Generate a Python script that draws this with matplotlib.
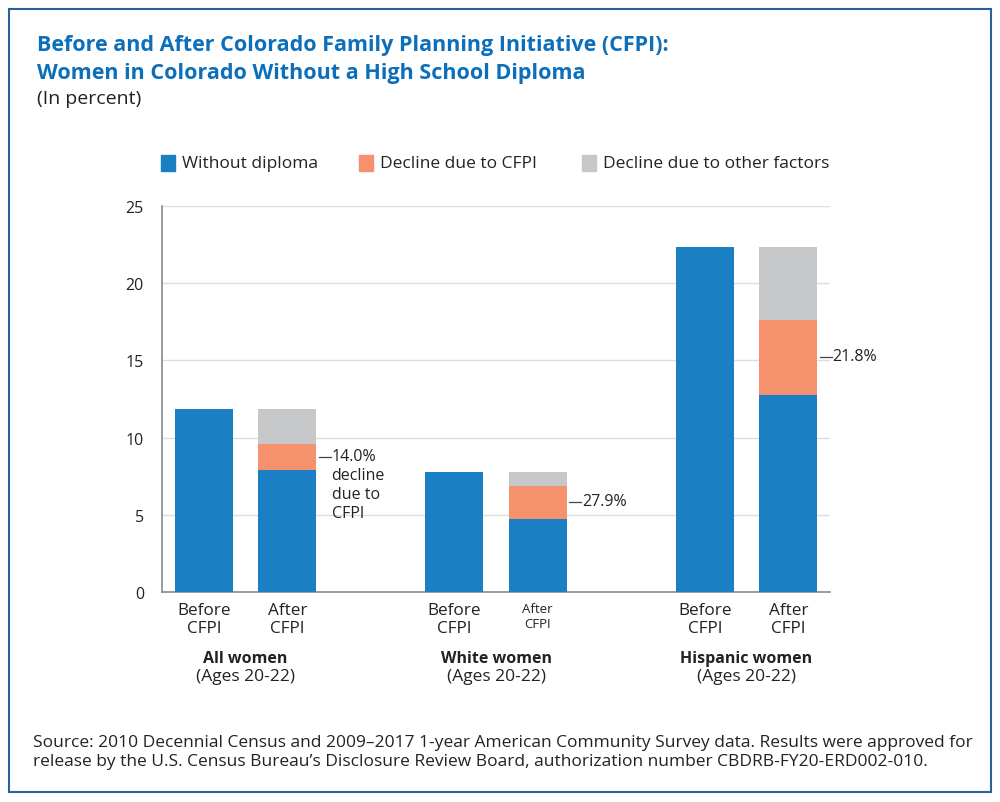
import numpy as np
import matplotlib
matplotlib.use("Agg")
import matplotlib.pyplot as plt
from matplotlib.patches import Rectangle

plt.rcParams['font.family'] = ['Open Sans', 'DejaVu Sans']

groups = ["All women", "White women", "Hispanic women"]
group_sub = "(Ages 20-22)"
before_vals = [11.85, 7.75, 22.33]
after_without = [7.90, 4.73, 12.78]
after_cfpi = [1.69, 2.16, 4.86]
after_other = [2.26, 0.86, 4.69]
cfpi_pct = ["14.0%", "27.9%", "21.8%"]
yticks = [0, 5, 10, 15, 20, 25]

c_blue = "#1b7fc4"
c_orange = "#f5916d"
c_gray = "#c6c7c9"
c_title = "#0b6fbb"
c_text = "#222222"

fig = plt.figure(figsize=(10, 8.03), dpi=100)
ax = fig.add_axes([0.162, 0.2615, 0.668, 0.4807])

x_before = np.array([0, 3, 6], dtype=float)
x_after = x_before + 1
w = 0.7

ax.bar(x_before, before_vals, w, color=c_blue, zorder=3)
ax.bar(x_after, after_without, w, color=c_blue, zorder=3)
ax.bar(x_after, after_cfpi, w, bottom=after_without, color=c_orange, zorder=3)
bot2 = np.array(after_without) + np.array(after_cfpi)
ax.bar(x_after, after_other, w, bottom=bot2, color=c_gray, zorder=3)

ax.set_xlim(-0.5, 7.5)
ax.set_ylim(0, 25)
ax.set_yticks(yticks)
ax.yaxis.grid(True, color="#dddddd", lw=1, zorder=0)
ax.tick_params(axis="y", length=0, pad=13, labelsize=11.5, labelcolor=c_text)
ax.tick_params(axis="x", length=0)
ax.set_xticks([])
for s in ["top", "right"]:
    ax.spines[s].set_visible(False)
for s in ["left", "bottom"]:
    ax.spines[s].set_color("#8a8a8a")
    ax.spines[s].set_linewidth(1.2)

# percent annotations next to the orange segments
for i in range(3):
    mid = after_without[i] + after_cfpi[i] / 2
    xr = x_after[i] + w / 2
    ax.plot([xr + 0.03, xr + 0.17], [mid, mid], color="#444444", lw=0.9,
            clip_on=False, zorder=4)
    label = cfpi_pct[i]
    if i == 0:
        label = label + "\ndecline\ndue to\nCFPI"
    ax.text(xr + 0.18, mid + 0.6, label, ha="left", va="top", fontsize=11.5,
            color=c_text, linespacing=1.25, clip_on=False)

# category labels under the bars
for i in range(3):
    ax.text(x_before[i], -0.65, "Before\nCFPI", ha="center", va="top",
            fontsize=12.3, color=c_text, linespacing=1.2)
    fs = 9.5 if i == 1 else 12.3
    ax.text(x_after[i], -0.65, "After\nCFPI", ha="center", va="top",
            fontsize=fs, color=c_text, linespacing=1.2)
    gx = (x_before[i] + x_after[i]) / 2
    ax.text(gx, -3.75, groups[i], ha="center", va="top", fontsize=11.5,
            fontweight="bold", color=c_text)
    ax.text(gx, -4.95, group_sub, ha="center", va="top", fontsize=12.5,
            color=c_text)

# legend drawn by hand
leg = [("Without diploma", c_blue, 0.161), ("Decline due to CFPI", c_orange, 0.359),
       ("Decline due to other factors", c_gray, 0.582)]
for name, col, lx in leg:
    fig.patches.append(Rectangle((lx, 1 - 172 / 803), 0.014, 16 / 803,
                                 transform=fig.transFigure, color=col))
    fig.text(lx + 0.021, 1 - 164 / 803, name, ha="left", va="center",
             fontsize=12.5, color=c_text)

title_lines = ["Before and After Colorado Family Planning Initiative (CFPI):",
               "Women in Colorado Without a High School Diploma"]
for k, line in enumerate(title_lines):
    fig.text(0.037, 1 - (45 + 28 * k) / 803, line, ha="left", va="center",
             fontsize=15.5, fontweight="bold", color=c_title)
fig.text(0.037, 1 - 99 / 803, "(In percent)", ha="left", va="center",
         fontsize=14, color=c_text)

fig.text(0.033, 1 - 753 / 803,
         "Source: 2010 Decennial Census and 2009\u20132017 1-year American Community Survey data. "
         "Results were approved for\nrelease by the U.S. Census Bureau\u2019s Disclosure Review Board, "
         "authorization number CBDRB-FY20-ERD002-010.",
         ha="left", va="center", fontsize=12.5, color=c_text, linespacing=1.25)

fig.patches.append(Rectangle((0.009, 1 - 793 / 803), 0.982, 783 / 803,
                             transform=fig.transFigure, fill=False,
                             edgecolor="#2d5f9a", lw=1.5))

fig.savefig("out.png", dpi=100)
